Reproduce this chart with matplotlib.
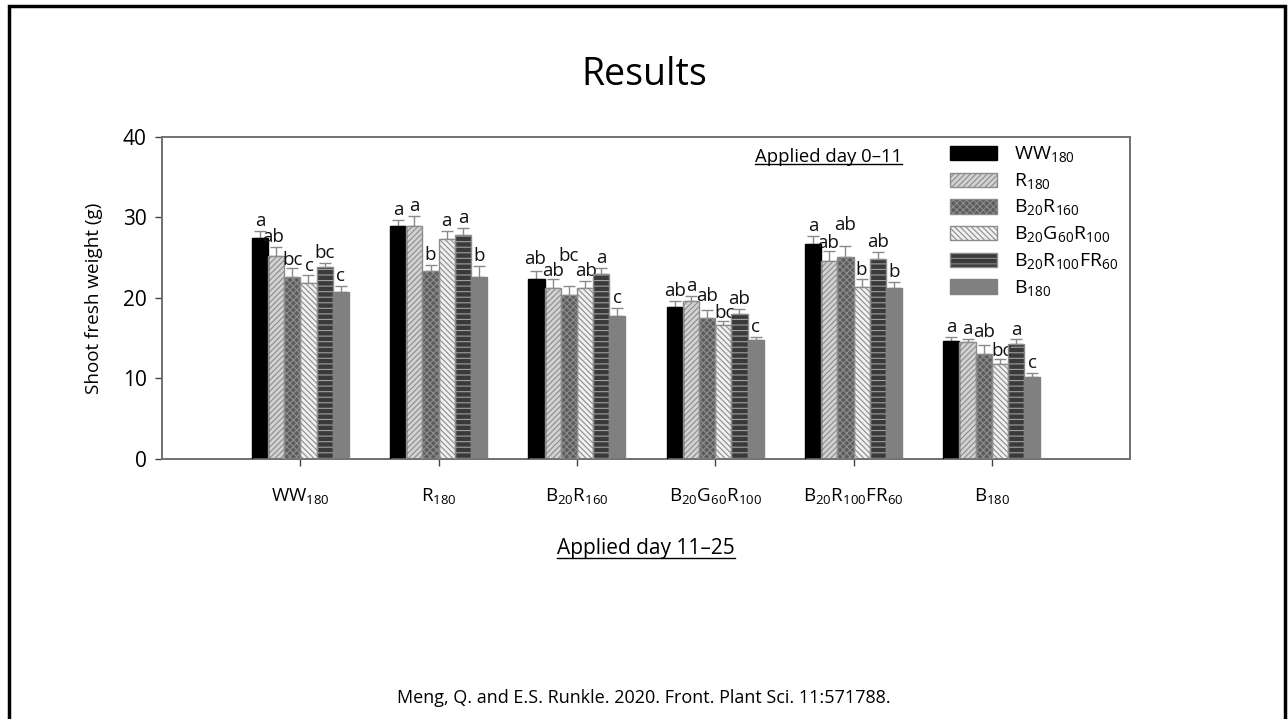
import matplotlib
matplotlib.use("Agg")
import matplotlib.pyplot as plt
import numpy as np
from matplotlib.lines import Line2D

# shoot fresh weight (g) by treatment, day 11-25 group on x, day 0-11 series in bars
groups = [r"$\mathrm{WW}_{180}$", r"$\mathrm{R}_{180}$", r"$\mathrm{B}_{20}\mathrm{R}_{160}$",
          r"$\mathrm{B}_{20}\mathrm{G}_{60}\mathrm{R}_{100}$", r"$\mathrm{B}_{20}\mathrm{R}_{100}\mathrm{FR}_{60}$",
          r"$\mathrm{B}_{180}$"]
series = groups

ww180 = [27.5, 28.9, 22.4, 18.9, 26.7, 14.6]
r180 = [25.2, 28.9, 21.3, 19.6, 24.6, 14.5]
b20r160 = [22.6, 23.3, 20.4, 17.5, 25.1, 13.1]
b20g60r100 = [21.9, 27.3, 21.3, 16.6, 21.4, 11.8]
b20r100fr60 = [23.8, 27.8, 23.0, 18.0, 24.8, 14.3]
b180 = [20.7, 22.6, 17.8, 14.8, 21.2, 10.2]

err_ww180 = [0.8, 0.8, 0.9, 0.75, 1.0, 0.55]
err_r180 = [1.1, 1.3, 1.0, 0.7, 1.2, 0.45]
err_b20r160 = [1.1, 0.8, 1.1, 0.95, 1.4, 1.0]
err_b20g60r100 = [0.9, 1.0, 0.8, 0.55, 0.9, 0.6]
err_b20r100fr60 = [0.6, 0.9, 0.7, 0.6, 0.9, 0.55]
err_b180 = [0.8, 1.4, 1.0, 0.4, 0.8, 0.45]

let_ww180 = ["a", "a", "ab", "ab", "a", "a"]
let_r180 = ["ab", "a", "ab", "a", "ab", "a"]
let_b20r160 = ["bc", "b", "bc", "ab", "ab", "ab"]
let_b20g60r100 = ["c", "a", "ab", "bc", "b", "bc"]
let_b20r100fr60 = ["bc", "a", "a", "ab", "ab", "a"]
let_b180 = ["c", "b", "c", "c", "b", "c"]

values = [ww180, r180, b20r160, b20g60r100, b20r100fr60, b180]
errors = [err_ww180, err_r180, err_b20r160, err_b20g60r100, err_b20r100fr60, err_b180]
letters = [let_ww180, let_r180, let_b20r160, let_b20g60r100, let_b20r100fr60, let_b180]

# small shifts (series, group) -> (dx, dy) so crowded letters stay readable
nudge = {(1, 0): (-0.02, 0.0), (2, 0): (0.0, -0.2), (3, 0): (0.01, 0.0),
         (2, 2): (0.0, 2.5), (0, 2): (-0.01, 0.3), (1, 2): (0.0, -0.2), (3, 2): (0.01, 0.0),
         (2, 3): (0.0, 0.6), (3, 3): (0.01, -0.2),
         (2, 4): (0.0, 1.4), (1, 4): (-0.01, -0.2),
         (2, 5): (0.0, 0.5), (3, 5): (0.01, -0.2)}

# fill, hatch, hatch colour, outline
styles = [
    ("#000000", None, "#000000", "#000000"),
    ("#d2d2d2", "//////", "#8c8c8c", "#8c8c8c"),
    ("#5c5c5c", "xxxxx", "#8e8e8e", "#8c8c8c"),
    ("#f0f0f0", "\\\\\\\\\\\\", "#8c8c8c", "#8c8c8c"),
    ("#3a3a3a", "---", "#a0a0a0", "#8c8c8c"),
    ("#808080", None, "#808080", "#808080"),
]

plt.rcParams["font.family"] = ["Open Sans", "DejaVu Sans"]
plt.rcParams["mathtext.fontset"] = "custom"
plt.rcParams["mathtext.rm"] = "Open Sans"
plt.rcParams["hatch.linewidth"] = 0.8

fig = plt.figure(figsize=(12.88, 7.19), dpi=100)
ax = fig.add_axes([0.1258, 0.3616, 0.7516, 0.4479])

x = np.arange(len(groups))
w = 0.117
handles = []
for i in range(len(series)):
    face, hatch, hcol, edge = styles[i]
    pos = x + (i - 2.5) * w
    ax.bar(pos, values[i], w, color=face, hatch=hatch, edgecolor=hcol, linewidth=0, zorder=2)
    ax.bar(pos, values[i], w, fill=False, edgecolor=edge, linewidth=1.0, zorder=3)
    ax.errorbar(pos, values[i], yerr=[np.zeros(len(groups)), errors[i]], fmt="none",
                ecolor="#8a8a8a", elinewidth=1.0, capsize=4, capthick=1.0, zorder=1)
    for j, (xp, v, e, t) in enumerate(zip(pos, values[i], errors[i], letters[i])):
        dx, dy = nudge.get((i, j), (0.0, 0.0))
        ax.text(xp + dx, v + e + 0.1 + dy, t, ha="center", va="bottom", fontsize=13.5, color="#111111")
    handles.append(plt.Rectangle((0, 0), 1, 1, facecolor=face, hatch=hatch, edgecolor=edge, linewidth=1.0))

ax.set_xlim(-1.0, 6.0)
ax.set_ylim(0, 40)
ax.set_yticks([0, 10, 20, 30, 40])
ax.set_xticks(x)
ax.set_xticklabels(groups, fontsize=13.5)
ax.tick_params(axis="y", labelsize=15, direction="out", length=5, color="#444444", width=1, pad=6)
ax.tick_params(axis="x", direction="out", length=5, color="#444444", width=1, pad=15)
for s in ax.spines.values():
    s.set_color("#707070")
    s.set_linewidth(1.4)
ax.set_ylabel("Shoot fresh weight (g)", fontsize=13.6, labelpad=14)

leg = ax.legend(handles, series, loc="upper left", bbox_to_anchor=(0.806, 1.0), frameon=False,
                fontsize=14, handlelength=2.4, handleheight=0.75, labelspacing=0.33,
                handletextpad=0.9, borderaxespad=0)

t1 = fig.text(0.6435, 0.782, "Applied day 0–11", ha="center", va="center", fontsize=13.3)
t2 = fig.text(0.5015, 0.237, "Applied day 11–25", ha="center", va="center", fontsize=15)
fig.text(0.5, 0.895, "Results", ha="center", va="center", fontsize=27)
fig.text(0.5, 0.029, "Meng, Q. and E.S. Runkle. 2020. Front. Plant Sci. 11:571788.",
         ha="center", va="center", fontsize=13)

# underline the two axis captions
fig.canvas.draw()
r = fig.canvas.get_renderer()
for t in (t1, t2):
    bb = t.get_window_extent(r).transformed(fig.transFigure.inverted())
    fig.add_artist(Line2D([bb.x0, bb.x1], [bb.y0 + 0.002, bb.y0 + 0.002], color="black",
                          linewidth=1.0, transform=fig.transFigure))

# slide frame
fig.add_artist(plt.Rectangle((0.007, -0.01), 0.991, 1.002, fill=False, edgecolor="black",
                             linewidth=2.5, transform=fig.transFigure))

fig.savefig("out.png", dpi=100)
